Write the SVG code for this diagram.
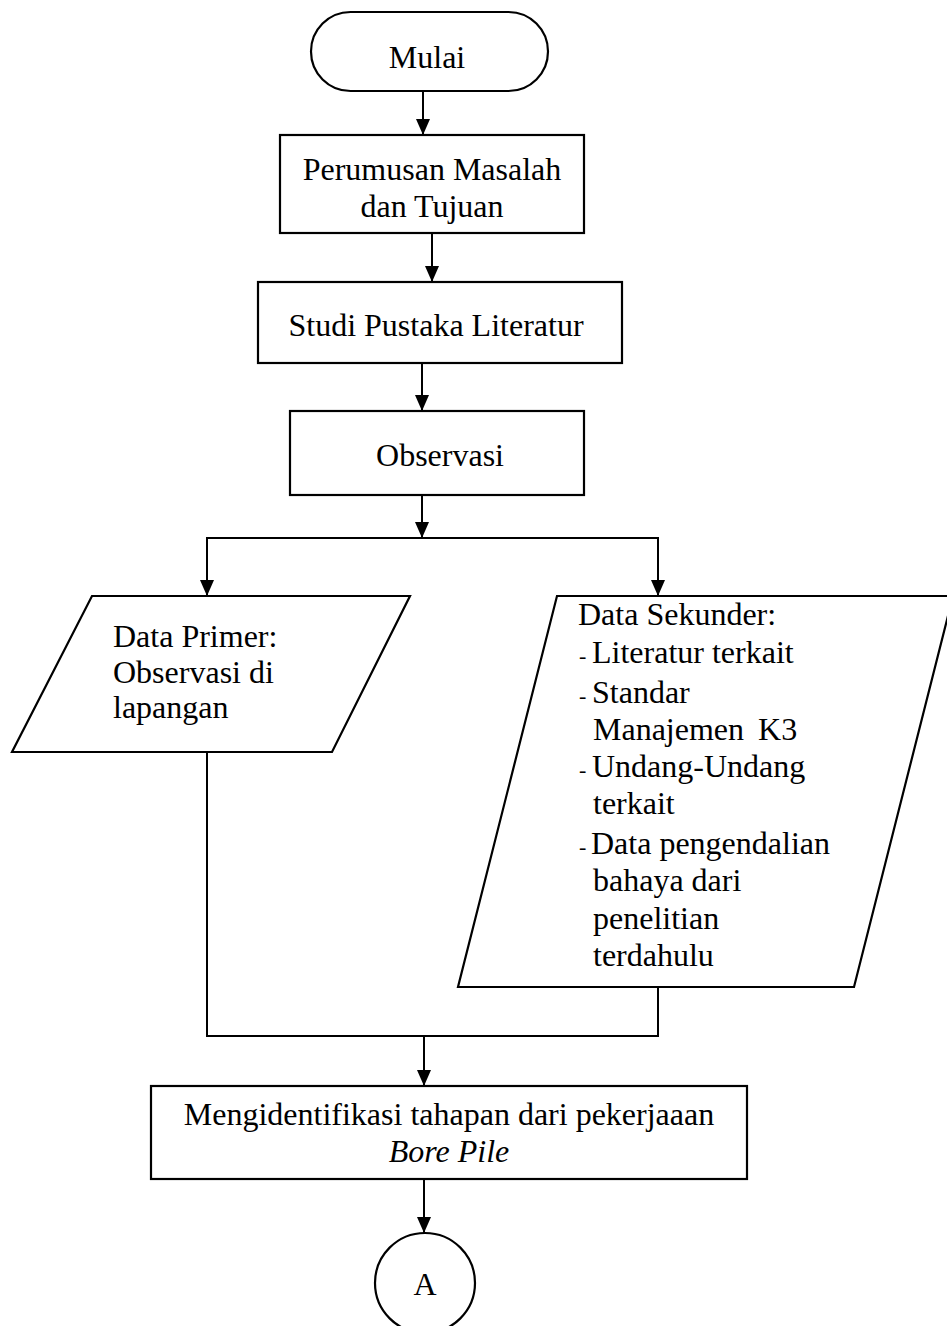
<svg xmlns="http://www.w3.org/2000/svg" width="947" height="1326" viewBox="0 0 947 1326">
<style>
.shape{fill:#fff;stroke:#000;stroke-width:2.2}
.conn{fill:none;stroke:#000;stroke-width:2}
.t{font-family:"Liberation Serif","Times New Roman",serif;font-size:32px;fill:#000}
.c{text-anchor:middle}
.dash{font-family:"Liberation Serif","Times New Roman",serif;font-size:22px;fill:#000}
</style>
<defs>
<marker id="ah" viewBox="0 0 16 14" refX="16" refY="7" markerWidth="16" markerHeight="14" markerUnits="userSpaceOnUse" orient="auto">
<path d="M0,0 L16,7 L0,14 z" fill="#000"/>
</marker>
</defs>
<rect width="947" height="1326" fill="#fff"/>
<g id="connectors">
<line class="conn" x1="423" y1="91" x2="423" y2="135" marker-end="url(#ah)"/>
<line class="conn" x1="432" y1="233" x2="432" y2="282" marker-end="url(#ah)"/>
<line class="conn" x1="422" y1="363" x2="422" y2="411" marker-end="url(#ah)"/>
<line class="conn" x1="422" y1="495" x2="422" y2="538" marker-end="url(#ah)"/>
<polyline class="conn" points="207,596 207,538 658,538 658,596"/>
<line class="conn" x1="207" y1="560" x2="207" y2="596" marker-end="url(#ah)"/>
<line class="conn" x1="658" y1="560" x2="658" y2="596" marker-end="url(#ah)"/>
<polyline class="conn" points="207,752 207,1036 658,1036 658,987"/>
<line class="conn" x1="424" y1="1036" x2="424" y2="1086" marker-end="url(#ah)"/>
<line class="conn" x1="424" y1="1179" x2="424" y2="1233" marker-end="url(#ah)"/>
</g>
<g id="start">
<rect class="shape" x="311" y="12" width="237" height="79" rx="39.5" ry="39.5"/>
<text class="t c" x="427" y="68">Mulai</text>
</g>
<g id="perumusan">
<rect class="shape" x="280" y="135" width="304" height="98"/>
<text class="t c" x="432" y="180">Perumusan Masalah</text>
<text class="t c" x="432" y="217">dan Tujuan</text>
</g>
<g id="studi">
<rect class="shape" x="258" y="282" width="364" height="81"/>
<text class="t c" x="436" y="336">Studi Pustaka Literatur</text>
</g>
<g id="observasi">
<rect class="shape" x="290" y="411" width="294" height="84"/>
<text class="t c" x="440" y="466">Observasi</text>
</g>
<g id="data-primer">
<polygon class="shape" points="92,596 410,596 332,752 12,752"/>
<text class="t" x="113" y="647">Data Primer:</text>
<text class="t" x="113" y="683">Observasi di</text>
<text class="t" x="113" y="718">lapangan</text>
</g>
<g id="data-sekunder">
<polygon class="shape" points="557,596 953,596 854,987 458,987"/>
<text class="t" x="578" y="625">Data Sekunder:</text>
<text class="dash" x="579" y="663">-</text>
<text class="t" x="592" y="663">Literatur terkait</text>
<text class="dash" x="579" y="703">-</text>
<text class="t" x="592" y="703">Standar</text>
<text class="t" x="593" y="740" word-spacing="6">Manajemen K3</text>
<text class="dash" x="579" y="777">-</text>
<text class="t" x="592" y="777">Undang-Undang</text>
<text class="t" x="593" y="814">terkait</text>
<text class="dash" x="579" y="854">-</text>
<text class="t" x="591" y="854">Data pengendalian</text>
<text class="t" x="593" y="891">bahaya dari</text>
<text class="t" x="593" y="929">penelitian</text>
<text class="t" x="593" y="966">terdahulu</text>
</g>
<g id="identifikasi">
<rect class="shape" x="151" y="1086" width="596" height="93"/>
<text class="t c" x="449" y="1125">Mengidentifikasi tahapan dari pekerjaaan</text>
<text class="t c" x="449" y="1162" font-style="italic">Bore Pile</text>
</g>
<g id="connector-a">
<circle class="shape" cx="425" cy="1283" r="50"/>
<text class="t c" x="425" y="1295">A</text>
</g>
</svg>
